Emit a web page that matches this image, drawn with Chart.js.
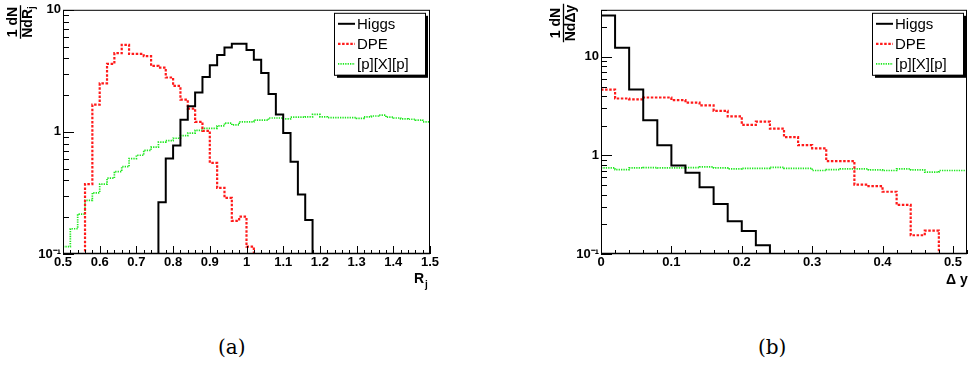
<!DOCTYPE html>
<html>
<head>
<meta charset="utf-8">
<script src="https://cdn.jsdelivr.net/npm/chart.js@4.4.1/dist/chart.umd.min.js"></script>
<style>
body{margin:0;background:#fff;width:968px;height:365px;overflow:hidden;position:relative}
.panel{position:absolute;top:0;width:484px;height:300px}
#boxA{left:0}
#boxB{left:484px}
.cap{position:absolute;top:335px;font-family:"DejaVu Serif","Liberation Serif",serif;font-size:20px;color:#000}
</style>
</head>
<body>
<div class="panel" id="boxA"><canvas id="chartA"></canvas></div>
<div class="panel" id="boxB"><canvas id="chartB"></canvas></div>
<div class="cap" style="left:218px">(a)</div>
<div class="cap" style="left:758px">(b)</div>
<script>
// ---- data, panel (a): R_j, bins of 0.02 from 0.5
const rjLow = 0.5;
const rjBin = 0.02;
const higgsRj = [0,0,0,0,0,0,0,0,0,0,0,0,0,
  0.265,0.605,0.774,1.26,1.62,2.10,2.82,3.51,4.27,4.92,5.26,5.26,4.69,3.89,3.04,2.04,1.39,0.978,0.569,0.307,0.190,
  0,0,0,0,0,0,0,0,0,0,0,0,0,0,0,0];
const dpeRj = [0,0,0,
  0.374,1.67,2.50,3.61,4.41,5.17,4.35,4.35,4.17,3.47,3.36,2.79,2.38,1.84,1.55,1.21,1.02,0.558,0.348,0.288,0.187,0.202,0.115,
  0,0,0,0,0,0,0,0,0,0,0,0,0,0,0,0,0,0,0,0,0,0,0,0];
const pxpRj = [0.115,0.161,0.212,0.275,0.317,0.374,0.418,0.473,0.519,0.605,
  0.644,0.706,0.751,0.824,0.849,0.887,0.931,0.978,1.03,1.07,
  1.07,1.12,1.18,1.14,1.21,1.21,1.25,1.25,1.30,1.30,
  1.28,1.32,1.32,1.33,1.39,1.33,1.31,1.31,1.31,1.31,
  1.29,1.33,1.35,1.37,1.32,1.30,1.28,1.27,1.25,1.21];
const xTicksA = [0.5,0.6,0.7,0.8,0.9,1,1.1,1.2,1.3,1.4,1.5];
const yTicksA = [0.1,1,10];

// ---- data, panel (b): delta y, bins of 0.02 from 0
const dyLow = 0;
const dyBin = 0.02;
const higgsDy = [26.2,12.4,4.65,2.27,1.27,0.789,0.667,0.476,0.322,0.215,0.171,0.123,
  0,0,0,0,0,0,0,0,0,0,0,0,0,0];
const dpeDy = [4.65,3.78,3.70,3.87,3.87,3.64,3.43,3.22,2.83,2.49,2.04,2.20,1.87,
  1.53,1.27,1.18,0.877,0.877,0.506,0.488,0.428,0.315,0.155,0.173,0,0];
const pxpDy = [0.746,0.719,0.746,0.752,0.746,0.746,0.752,0.764,0.746,0.730,0.740,0.740,0.758,
  0.740,0.740,0.703,0.719,0.730,0.730,0.713,0.703,0.730,0.713,0.676,0.703,0.703];
const xTicksB = [0,0.1,0.2,0.3,0.4,0.5];
const yTicksB = [0.1,1,10];

const names = ["Higgs","DPE","[p][X][p]"];
const TICKFONT = {family:"'Liberation Sans', Arial, sans-serif", size:13, weight:'bold'};

// histogram: points at bin centres, 'middle' steps put the jumps on the bin edges
function histPoints(lo, w, vals, floor){
  const pts = [{x: lo, y: vals[0] > 0 ? vals[0] : floor}];
  vals.forEach((v, i) => pts.push({x: lo + (i + 0.5) * w, y: v > 0 ? v : floor}));
  pts.push({x: lo + vals.length * w, y: pts[pts.length - 1].y});
  return pts;
}

function styleSets(lo, w, h, d, p, floor){
  return [
    {label:names[0], data:histPoints(lo,w,h,floor), borderColor:'#000', borderWidth:2, order:1},
    {label:names[1], data:histPoints(lo,w,d,floor), borderColor:'#ff1a1a', borderWidth:2.2, borderDash:[2.5,1.6], order:2},
    {label:names[2], data:histPoints(lo,w,p,floor), borderColor:'#1ee81e', borderWidth:1.7, borderDash:[1.3,1.1], order:3}
  ].map(s => Object.assign(s, {stepped:'middle', pointRadius:0, fill:false, tension:0}));
}

const rootFrame = {
  id:'rootFrame',
  afterDraw(chart, args, o){
    const {ctx, chartArea:a} = chart;
    const xs = chart.scales.x, ys = chart.scales.y;
    ctx.save();
    ctx.strokeStyle = '#000';
    ctx.lineWidth = 1;
    // x ticks, pointing into the frame
    const n = Math.round((o.xMax - o.xMin) / o.xMinor);
    ctx.beginPath();
    for(let i = 0; i <= n; i++){
      const v = o.xMin + i * o.xMinor;
      const major = Math.abs(v * 10 - Math.round(v * 10)) < 1e-6;
      const px = Math.round(xs.getPixelForValue(v)) + 0.5;
      ctx.moveTo(px, a.bottom);
      ctx.lineTo(px, a.bottom - (major ? 8 : 4));
    }
    // log y ticks
    for(let d = -1; d <= 1; d++){
      for(let m = 1; m <= 9; m++){
        const v = m * Math.pow(10, d);
        if(v < ys.min - 1e-9 || v > ys.max + 1e-9) continue;
        const py = Math.round(ys.getPixelForValue(v)) + 0.5;
        ctx.moveTo(a.left, py);
        ctx.lineTo(a.left + (m === 1 ? 11 : 6), py);
      }
    }
    ctx.stroke();
    ctx.strokeRect(a.left + 0.5, a.top + 0.5, a.right - a.left - 1, a.bottom - a.top - 1);
    ctx.lineWidth = 1.6;
    ctx.beginPath();
    ctx.moveTo(a.left, a.bottom - 0.5);
    ctx.lineTo(a.right, a.bottom - 0.5);
    ctx.stroke();

    // y title as a rotated fraction
    ctx.fillStyle = '#000';
    ctx.translate(o.yTitleX, o.yTitleY);
    ctx.rotate(-Math.PI / 2);
    ctx.font = "bold 14px 'Liberation Sans', Arial, sans-serif";
    ctx.textAlign = 'center';
    ctx.textBaseline = 'alphabetic';
    ctx.fillText('1 dN', 0, -3);
    const den = o.yDen, sub = o.yDenSub;
    const wDen = ctx.measureText(den).width;
    ctx.font = "bold 10px 'Liberation Sans', Arial, sans-serif";
    const wSub = sub ? ctx.measureText(sub).width : 0;
    const tot = wDen + wSub;
    ctx.font = "bold 14px 'Liberation Sans', Arial, sans-serif";
    ctx.textAlign = 'left';
    ctx.fillText(den, -tot / 2, 12);
    if(sub){
      ctx.font = "bold 10px 'Liberation Sans', Arial, sans-serif";
      ctx.fillText(sub, -tot / 2 + wDen, 15);
    }
    ctx.lineWidth = 1.3;
    ctx.beginPath();
    ctx.moveTo(-tot / 2 - 1, 0.5);
    ctx.lineTo(tot / 2 + 1, 0.5);
    ctx.stroke();
    ctx.setTransform(1, 0, 0, 1, 0, 0);
    const dpr = chart.currentDevicePixelRatio || 1;
    ctx.scale(dpr, dpr);

    // x title, right-aligned under the axis
    ctx.font = "bold 14px 'Liberation Sans', Arial, sans-serif";
    ctx.textAlign = 'left';
    ctx.textBaseline = 'alphabetic';
    ctx.fillText(o.xTitle, o.xTitleX, o.xTitleY);
    if(o.xTitleSub){
      const w = ctx.measureText(o.xTitle).width;
      ctx.font = "bold 10px 'Liberation Sans', Arial, sans-serif";
      ctx.fillText(o.xTitleSub, o.xTitleX + w + 1, o.xTitleY + 5);
    }

    // ROOT-style legend box with shadow
    const bx = a.right - o.legRight - 91, by = a.top + 3, bw = 91, bh = 62;
    ctx.fillStyle = '#000';
    ctx.fillRect(bx + 3, by + 3, bw, bh);
    ctx.fillStyle = '#fff';
    ctx.fillRect(bx, by, bw, bh);
    ctx.lineWidth = 1;
    ctx.strokeStyle = '#000';
    ctx.strokeRect(bx + 0.5, by + 0.5, bw, bh);
    ctx.font = "15px 'Liberation Sans', Arial, sans-serif";
    ctx.textBaseline = 'middle';
    const rows = [11, 31, 51];
    chart.data.datasets.forEach((ds, i) => {
      const ry = by + rows[i];
      ctx.save();
      ctx.strokeStyle = ds.borderColor;
      ctx.lineWidth = ds.borderWidth;
      ctx.setLineDash(ds.borderDash || []);
      ctx.beginPath();
      ctx.moveTo(bx + 4, ry);
      ctx.lineTo(bx + 21, ry);
      ctx.stroke();
      ctx.restore();
      ctx.fillStyle = '#000';
      ctx.fillText(ds.label, bx + 23, ry + 1);
    });
    ctx.restore();
  }
};

function makeChart(id, sets, cfg){
  return new Chart(document.getElementById(id), {
    type:'line',
    data:{datasets:sets},
    plugins:[rootFrame],
    options:{
      responsive:true,
      maintainAspectRatio:false,
      animation:false,
      events:[],
      layout:{padding:{left:0, top:5, right:cfg.padRight, bottom:0}},
      plugins:{
        legend:{display:false},
        tooltip:{enabled:false},
        rootFrame:cfg.frame
      },
      scales:{
        x:{
          type:'linear', min:cfg.xMin, max:cfg.xMax,
          grid:{display:false, drawTicks:false},
          border:{display:false},
          afterBuildTicks:s => { s.ticks = cfg.xTicks.map(v => ({value:v})); },
          afterFit:s => { s.height = 46; },
          ticks:{font:TICKFONT, color:'#000', padding:1, maxRotation:0, autoSkip:false,
                 callback:v => String(+v.toFixed(2))}
        },
        y:{
          type:'logarithmic', min:cfg.yMin, max:cfg.yMax,
          grid:{display:false, drawTicks:false},
          border:{display:false},
          afterBuildTicks:s => { s.ticks = cfg.yTicks.map(v => ({value:v})); },
          afterFit:s => { s.width = cfg.axisLeft; },
          ticks:{font:TICKFONT, color:'#000', padding:2, autoSkip:false,
                 callback:v => v === 0.1 ? '10\u207B\u00B9' : String(v)}
        }
      }
    }
  });
}

makeChart('chartA', styleSets(rjLow, rjBin, higgsRj, dpeRj, pxpRj, 0.1), {
  xMin:0.5, xMax:1.5, yMin:0.1, yMax:10, xTicks:xTicksA, yTicks:yTicksA,
  axisLeft:63, padRight:54,
  frame:{xMin:0.5, xMax:1.5, xMinor:0.02, yTitleX:20, yTitleY:22, yDen:'NdR', yDenSub:'j',
         xTitle:'R', xTitleSub:'j', xTitleX:414, xTitleY:283, legRight:5}
});

makeChart('chartB', styleSets(dyLow, dyBin, higgsDy, dpeDy, pxpDy, 0.1), {
  xMin:0, xMax:0.52, yMin:0.1, yMax:30, xTicks:xTicksB, yTicks:yTicksB,
  axisLeft:117, padRight:1,
  frame:{xMin:0, xMax:0.52, xMinor:0.02, yTitleX:79, yTitleY:23, yDen:'Nd\u0394y', yDenSub:'',
         xTitle:'\u0394 y', xTitleSub:'', xTitleX:462, xTitleY:284, legRight:4}
});
</script>
</body>
</html>
